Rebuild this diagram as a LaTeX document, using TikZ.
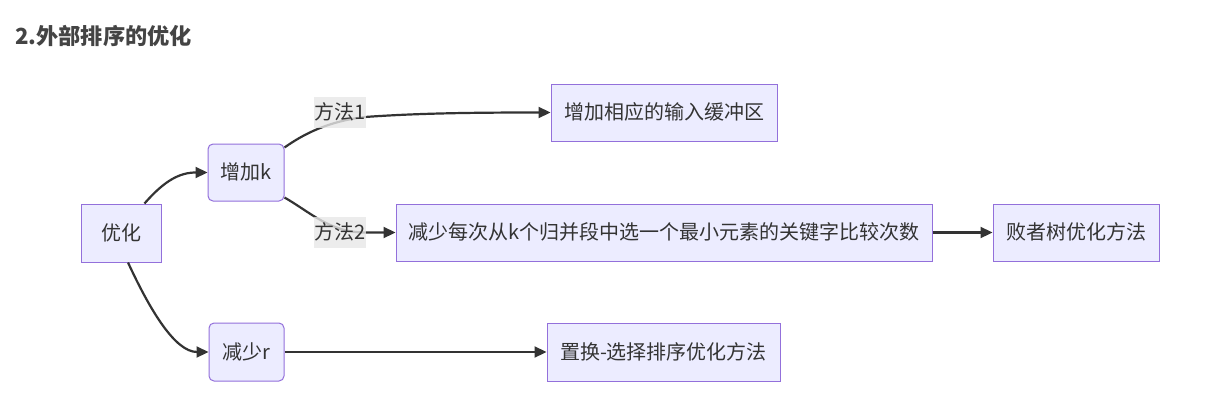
\documentclass[tikz,border=0pt]{standalone}
\usepackage{fontspec}
\setmainfont{Noto Sans CJK SC}
\usetikzlibrary{arrows.meta}
\definecolor{nodefill}{HTML}{ECECFF}
\definecolor{nodeborder}{HTML}{9370DB}
\definecolor{edgecol}{HTML}{333333}
\definecolor{txtcol}{HTML}{333333}
\definecolor{lblbg}{HTML}{E8E8E8}
\definecolor{titlecol}{HTML}{444444}
\begin{document}
\begin{tikzpicture}[x=1pt,y=-1pt,
  box/.style={draw=nodeborder, fill=nodefill, line width=1pt, inner sep=0pt,
    text=txtcol, font=\fontsize{20}{24}\selectfont,
    text height=17pt, text depth=2.5pt, minimum height=57pt},
  rbox/.style={box, rounded corners=5pt},
  elabel/.style={fill=lblbg, fill opacity=0.8, text opacity=1, inner sep=0pt,
    text=txtcol, font=\fontsize{20}{24}\selectfont,
    minimum width=50pt, minimum height=31pt, text height=17pt, text depth=2.5pt},
  conn/.style={draw=edgecol, line width=2.2pt, -{Triangle[length=12pt,width=11pt]}}
]
\useasboundingbox (0,0) rectangle (1214,404);
\fill[white] (0,0) rectangle (1214,404);

\node[anchor=base west, inner sep=0pt, text=titlecol,
  font=\fontsize{22.2}{26}\selectfont\bfseries] (title) at (15,45) {2.外部排序的优化};

\node[box, minimum width=80pt, minimum height=58pt] (youhua) at (121,233) {优化};
\node[rbox, minimum width=76pt] (zengk) at (246,172.5) {增加k};
\node[rbox, minimum width=75pt, minimum height=58pt] (jianr) at (246.5,352) {减少r};
\node[box, minimum width=226pt] (buf) at (664,112.5) {增加相应的输入缓冲区};
\node[box, minimum width=536pt] (less) at (664,232.5) {减少每次从k个归并段中选一个最小元素的关键字比较次数};
\node[box, minimum width=166pt] (loser) at (1076,232.5) {败者树优化方法};
\node[box, minimum width=233pt, minimum height=58pt] (repl) at (663.5,352) {置换-选择排序优化方法};

\draw[conn] ([xshift=-17pt]youhua.north east) .. controls (165,180) and (180,172.5) .. (zengk.west);
\draw[conn] ([xshift=7pt]youhua.south) .. controls (150,310) and (175,352) .. (jianr.west);
\draw[conn] ([yshift=-4pt]zengk.north east) .. controls (305,133) and (330,121) .. (365,117)
  .. controls (420,113) and (480,112.5) .. (buf.west);
\draw[conn] ([yshift=4pt]zengk.south east) .. controls (310,212) and (330,232.5) .. (365,232.5) -- (less.west);
\draw[conn] (less.east) -- (loser.west);
\draw[conn] (jianr.east) -- (repl.west);

\node[elabel] (l1) at (340,112.5) {方法1};
\node[elabel] (l2) at (340,232.5) {方法2};
\end{tikzpicture}
\end{document}
